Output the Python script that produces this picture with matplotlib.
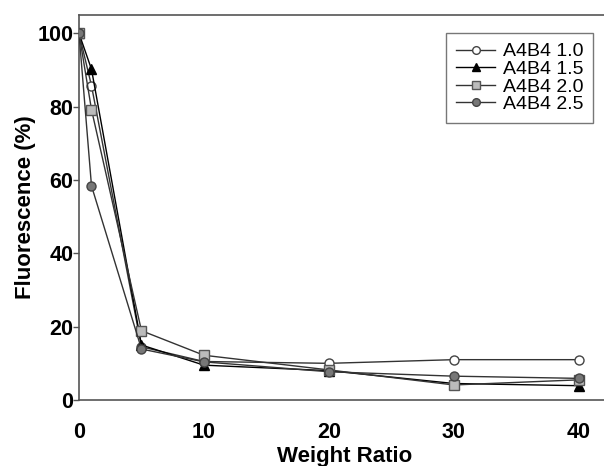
import matplotlib
matplotlib.use("Agg")
import matplotlib.pyplot as plt

x = [0, 1, 5, 10, 20, 30, 40]
s10 = [100, 85.7, 14.5, 10.5, 10.0, 11.0, 11.0]
s15 = [100, 90.2, 15.0, 9.5, 8.0, 4.5, 3.9]
s20 = [100, 79.2, 18.9, 12.2, 8.2, 4.1, 5.5]
s25 = [100, 58.4, 13.9, 10.4, 7.7, 6.5, 5.9]
labels = ["A4B4 1.0", "A4B4 1.5", "A4B4 2.0", "A4B4 2.5"]

plt.rcParams['font.family'] = ['Liberation Sans', 'DejaVu Sans']
fig = plt.figure(figsize=(6.04, 4.66), dpi=100)
ax = fig.add_axes([79/604, 66/466, 1 - 79/604 + 0.01, (400-15)/466])

lc = '#333333'
ax.plot(x, s10, color=lc, lw=1.0, marker='o', ms=6.5, mfc='white', mec='#444444', mew=1.0, label=labels[0], zorder=3)
ax.plot(x, s15, color='black', lw=1.0, marker='^', ms=6.5, mfc='black', mec='black', label=labels[1], zorder=4)
ax.plot(x, s20, color=lc, lw=1.0, marker='s', ms=6.5, mfc='#bbbbbb', mec='#555555', mew=1.0, label=labels[2], zorder=5)
ax.plot(x, s25, color=lc, lw=1.0, marker='o', ms=6.5, mfc='#777777', mec='#444444', mew=1.0, label=labels[3], zorder=6)

ax.set_xlim(0, 42.5)
ax.set_ylim(0, 105)
ax.set_xticks([0, 10, 20, 30, 40])
ax.set_yticks([0, 20, 40, 60, 80, 100])
for sp in ['left', 'bottom', 'top']:
    ax.spines[sp].set_color('#555555')
    ax.spines[sp].set_linewidth(1.2)
ax.spines['right'].set_visible(False)
ax.tick_params(axis='y', direction='out', length=4, width=1, color='#555555', labelsize=15.5, pad=0)
ax.tick_params(axis='x', direction='out', length=0, labelsize=15.5, pad=16)
for t in ax.get_xticklabels() + ax.get_yticklabels():
    t.set_fontweight('bold')
ax.set_xlabel("Weight Ratio", fontsize=16, fontweight='bold', labelpad=2)
ax.set_ylabel("Fluorescence (%)", fontsize=16, fontweight='bold', labelpad=1)

leg = ax.legend(loc='upper right', bbox_to_anchor=(0.968, 0.953), borderaxespad=0, fontsize=14, frameon=True,
                fancybox=False, edgecolor='#555555', handlelength=2.0, handletextpad=0.4,
                labelspacing=0.0, borderpad=0.5, markerscale=0.85)
leg.get_frame().set_linewidth(1.0)

fig.savefig("out.png", dpi=100)
